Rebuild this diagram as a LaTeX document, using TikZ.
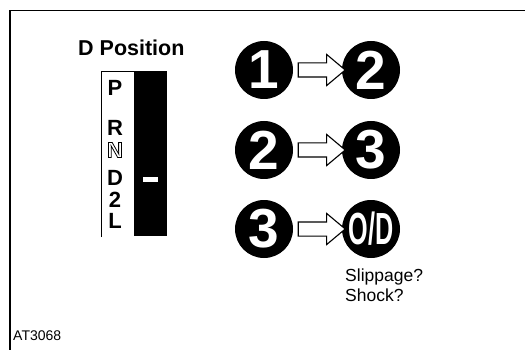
\documentclass[tikz,border=0pt]{standalone}
\usepackage{fontspec}
\setmainfont{Liberation Sans}
\usetikzlibrary{shapes.arrows,calc}
\newcommand{\outlineN}[1]{\special{pdf:literal direct q 1 Tr 0.8 w}#1\special{pdf:literal direct Q}}
\begin{document}
\begin{tikzpicture}[x=1pt,y=-1pt,
  txt/.style={inner sep=0pt,anchor=base west},
  sel/.style={inner sep=0pt,font=\bfseries\fontsize{22}{22}\selectfont},
  gear/.style={circle,fill=black,minimum size=58pt,inner sep=0pt,text=white,
    font=\bfseries\fontsize{55}{55}\selectfont},
  arr/.style={single arrow,draw=black,fill=white,line width=1.1pt,
    minimum height=47pt,inner xsep=0pt,inner ysep=6.5pt,
    single arrow head extend=8.5pt,single arrow tip angle=80}]
\useasboundingbox (0,0) rectangle (525,350);
\fill[white] (0,0) rectangle (525,350);
% frame
\coordinate (fbl) at (10,350);
\coordinate (ftl) at (10,10.5);
\coordinate (ftr) at (525,10.5);
\draw[line width=1.4pt] (fbl) -- (ftl) -- (ftr);
% title
\node[txt,font=\bfseries\fontsize{21.5}{21.5}\selectfont] (title) at (78,56) {D Position};
% selector
\fill[black] (134,71) rectangle (167,236);
\draw[line width=0.9pt] (101,237) -- (101,71) -- (134,71);
\fill[white] (143,177) rectangle (158,182.5);
\node[sel] (pP) at (115,88) {P};
\node[sel] (pR) at (115,128) {R};
\node[sel] (pN) at (115,150) {\outlineN{N}};
\node[sel] (pD) at (115,178) {D};
\node[sel] (p2) at (115,200) {2};
\node[sel] (pL) at (115,221) {L};
% gear circles
\node[gear] (a1) at (264,70) {1};
\node[gear] (a2) at (371,70) {2};
\node[gear] (b1) at (264,150) {2};
\node[gear] (b2) at (371,150) {3};
\node[gear] (c1) at (264,229) {3};
\node[gear] (c2) at (371,229) {\scalebox{0.56}[1]{\fontsize{45}{45}\selectfont O/D}};
% hollow arrows
\node[arr] (ra) at ($(a1)!0.5!(a2)$) {};
\node[arr] (rb) at ($(b1)!0.5!(b2)$) {};
\node[arr] (rc) at ($(c1)!0.5!(c2)$) {};
% notes
\node[txt,font=\fontsize{17.5}{17.5}\selectfont] (slip) at (345,281) {Slippage?};
\node[txt,font=\fontsize{17.5}{17.5}\selectfont] (shock) at (345,301) {Shock?};
\node[txt,font=\fontsize{14}{14}\selectfont] (code) at (13,340) {AT3068};
\end{tikzpicture}
\end{document}
